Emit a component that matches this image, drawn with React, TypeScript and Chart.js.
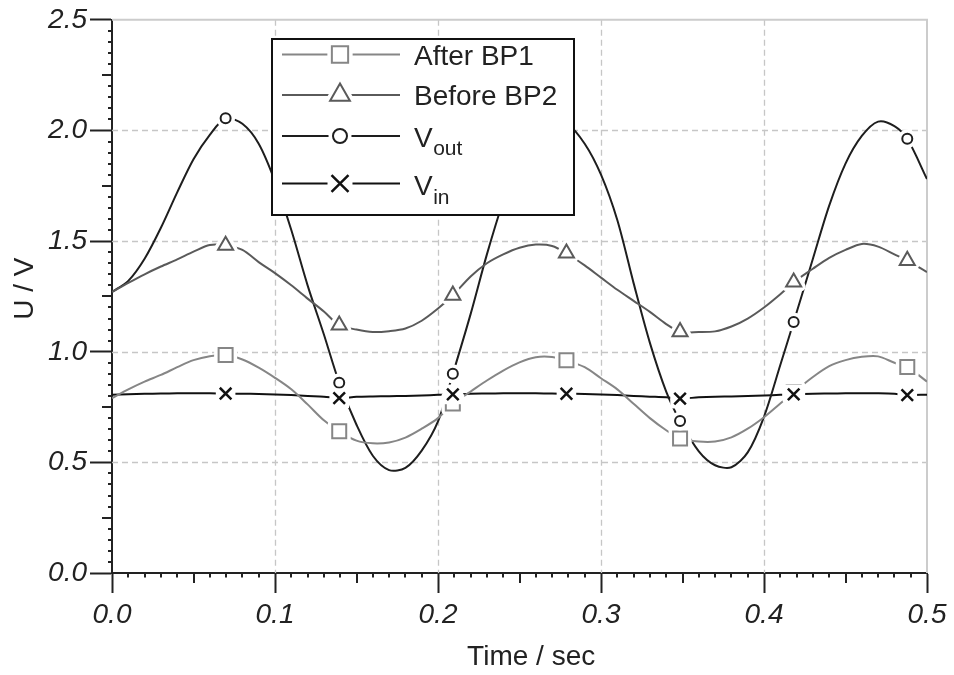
import React, { useEffect, useRef } from 'react';
import { Chart, registerables } from 'chart.js';

Chart.register(...registerables);

// ---------- data ----------
const TIME_S = [
  0, 0.01, 0.02, 0.03, 0.04, 0.05, 0.06, 0.0697, 0.08, 0.09, 0.1, 0.11, 0.12, 0.13, 0.1394,
  0.15, 0.16, 0.17, 0.18, 0.19, 0.2, 0.2091, 0.22, 0.23, 0.24, 0.25, 0.26, 0.27, 0.2788,
  0.29, 0.3, 0.31, 0.32, 0.33, 0.34, 0.3485, 0.36, 0.37, 0.38, 0.39, 0.4, 0.41, 0.4182,
  0.43, 0.44, 0.45, 0.46, 0.47, 0.48, 0.4879, 0.5,
];
const MARKER_INDEX = [7, 14, 21, 28, 35, 42, 49];

const AFTER_BP1 = [
  0.79, 0.83, 0.865, 0.895, 0.93, 0.962, 0.98, 0.985, 0.965, 0.928, 0.882, 0.83, 0.762, 0.69, 0.641,
  0.598, 0.586, 0.59, 0.612, 0.652, 0.7, 0.766, 0.82, 0.87, 0.915, 0.952, 0.975, 0.976, 0.961,
  0.93, 0.88, 0.83, 0.765, 0.7, 0.645, 0.608, 0.594, 0.594, 0.613, 0.652, 0.704, 0.766, 0.817,
  0.886, 0.935, 0.962, 0.977, 0.979, 0.95, 0.931, 0.865,
];
const BEFORE_BP2 = [
  1.27, 1.311, 1.35, 1.385, 1.417, 1.452, 1.482, 1.48, 1.46, 1.405, 1.355, 1.3, 1.24, 1.182, 1.12,
  1.1, 1.089, 1.093, 1.105, 1.14, 1.195, 1.255, 1.34, 1.4, 1.44, 1.47, 1.484, 1.478, 1.445,
  1.39, 1.335, 1.28, 1.23, 1.18, 1.125, 1.09, 1.089, 1.092, 1.114, 1.15, 1.2, 1.26, 1.314,
  1.375, 1.424, 1.46, 1.487, 1.475, 1.44, 1.412, 1.36,
];
const V_OUT = [
  1.27, 1.32, 1.42, 1.56, 1.72, 1.87, 1.98, 2.055, 2.03, 1.94, 1.77, 1.55, 1.3, 1.078, 0.86,
  0.67, 0.53, 0.465, 0.475, 0.553, 0.685, 0.9, 1.17, 1.44, 1.68, 1.88, 2.0, 2.05, 2.035,
  1.94, 1.8, 1.595, 1.31, 1.04, 0.82, 0.687, 0.55, 0.487, 0.478, 0.545, 0.706, 0.94, 1.134,
  1.42, 1.66, 1.85, 1.975, 2.04, 2.02, 1.962, 1.78,
];
const V_IN = [
  0.805, 0.808, 0.81, 0.811, 0.812, 0.812, 0.812, 0.811, 0.81, 0.809, 0.807, 0.804, 0.8, 0.797, 0.79,
  0.796, 0.798, 0.799, 0.8, 0.802, 0.805, 0.807, 0.81, 0.811, 0.812, 0.812, 0.812, 0.811, 0.81,
  0.809, 0.807, 0.804, 0.8, 0.797, 0.794, 0.788, 0.794, 0.797, 0.798, 0.8, 0.802, 0.805, 0.807,
  0.81, 0.811, 0.812, 0.812, 0.812, 0.81, 0.804, 0.806,
];

const X_TICKS = [0, 0.1, 0.2, 0.3, 0.4, 0.5];
const Y_TICKS = [0, 0.5, 1.0, 1.5, 2.0, 2.5];
const LEGEND_MAIN = ['After BP1', 'Before BP2', 'V', 'V'];
const LEGEND_SUB = ['', '', 'out', 'in'];
const X_TITLE = 'Time / sec';
const Y_TITLE = 'U / V';

// ---------- styles ----------
const FONT = "'Liberation Sans', Arial, Helvetica, sans-serif";
const INK = '#222222';
const SERIES_STYLE = [
  { color: '#868686', style: 'rect', r: 9.9, lr: 11.5 },
  { color: '#5a5a5a', style: 'triangle', r: 8.7, lr: 11.4 },
  { color: '#1e1e1e', style: 'circle', r: 5, lr: 7 },
  { color: '#111111', style: 'crossRot', r: 8.2, lr: 12 },
];
const SERIES_VALUES = [AFTER_BP1, BEFORE_BP2, V_OUT, V_IN];

function markerPath(ctx: CanvasRenderingContext2D, style: string, x: number, y: number, r: number) {
  ctx.beginPath();
  if (style === 'rect') {
    const s = r * Math.SQRT1_2;
    ctx.rect(x - s, y - s, 2 * s, 2 * s);
  } else if (style === 'triangle') {
    ctx.moveTo(x, y - r);
    ctx.lineTo(x + r * Math.sin((2 * Math.PI) / 3), y - r * Math.cos((2 * Math.PI) / 3));
    ctx.lineTo(x + r * Math.sin((4 * Math.PI) / 3), y - r * Math.cos((4 * Math.PI) / 3));
    ctx.closePath();
  } else if (style === 'circle') {
    ctx.arc(x, y, r, 0, Math.PI * 2);
  } else {
    const o = r * Math.SQRT1_2;
    ctx.moveTo(x - o, y - o);
    ctx.lineTo(x + o, y + o);
    ctx.moveTo(x + o, y - o);
    ctx.lineTo(x - o, y + o);
  }
}

function drawHalo(ctx: CanvasRenderingContext2D, style: string, x: number, y: number, r: number) {
  ctx.save();
  ctx.fillStyle = '#ffffff';
  ctx.strokeStyle = '#ffffff';
  if (style === 'crossRot') {
    const h = r * Math.SQRT1_2 + 4;
    ctx.fillRect(x - h, y - h, 2 * h, 2 * h);
  } else {
    markerPath(ctx, style, x, y, r);
    ctx.fill();
    ctx.lineWidth = 9;
    ctx.lineJoin = 'round';
    ctx.stroke();
  }
  ctx.restore();
}

function drawMarker(ctx: CanvasRenderingContext2D, style: string, x: number, y: number, r: number, color: string) {
  ctx.save();
  markerPath(ctx, style, x, y, r);
  ctx.lineWidth = style === 'crossRot' ? 2.5 : 2;
  ctx.strokeStyle = color;
  if (style !== 'crossRot') {
    ctx.fillStyle = '#ffffff';
    ctx.fill();
  }
  ctx.stroke();
  ctx.restore();
}

const gridPlugin = {
  id: 'dashedGrid',
  beforeDatasetsDraw(chart: any) {
    const { ctx, chartArea } = chart;
    const xs = chart.scales.x;
    const ys = chart.scales.y;
    ctx.save();
    ctx.strokeStyle = '#c6c6c6';
    ctx.lineWidth = 1.3;
    ctx.setLineDash([6, 4]);
    X_TICKS.slice(1, -1).forEach((t) => {
      const px = Math.round(xs.getPixelForValue(t)) + 0.5;
      ctx.beginPath();
      ctx.moveTo(px, chartArea.top);
      ctx.lineTo(px, chartArea.bottom);
      ctx.stroke();
    });
    Y_TICKS.slice(1, -1).forEach((v) => {
      const py = Math.round(ys.getPixelForValue(v)) + 0.5;
      ctx.beginPath();
      ctx.moveTo(chartArea.left, py);
      ctx.lineTo(chartArea.right, py);
      ctx.stroke();
    });
    ctx.setLineDash([]);
    ctx.strokeStyle = '#cccccc';
    ctx.lineWidth = 2;
    const top = ys.getPixelForValue(Y_TICKS[Y_TICKS.length - 1]);
    const right = xs.getPixelForValue(X_TICKS[X_TICKS.length - 1]);
    ctx.beginPath();
    ctx.moveTo(chartArea.left, top);
    ctx.lineTo(right, top);
    ctx.lineTo(right, chartArea.bottom);
    ctx.stroke();
    ctx.restore();
  },
};

const markerPlugin = {
  id: 'haloMarkers',
  afterDatasetsDraw(chart: any) {
    const { ctx } = chart;
    chart.data.datasets.forEach((_ds: any, di: number) => {
      const st = SERIES_STYLE[di];
      const meta = chart.getDatasetMeta(di);
      MARKER_INDEX.forEach((i) => {
        const el = meta.data[i];
        if (!el) return;
        drawHalo(ctx, st.style, el.x, el.y, st.r);
        drawMarker(ctx, st.style, el.x, el.y, st.r, st.color);
      });
    });
  },
};

const minorTickPlugin = {
  id: 'minorTicks',
  afterDraw(chart: any) {
    const { ctx, chartArea } = chart;
    const xs = chart.scales.x;
    const ys = chart.scales.y;
    ctx.save();
    ctx.strokeStyle = INK;
    ctx.lineWidth = 2;
    for (let k = 1; k < 50; k++) {
      if (k % 10 === 0) continue;
      const v = Math.round(k * 5) / 100;
      const py = Math.round(ys.getPixelForValue(v));
      const len = k % 5 === 0 ? 10 : 4;
      ctx.beginPath();
      ctx.moveTo(chartArea.left - len, py);
      ctx.lineTo(chartArea.left, py);
      ctx.stroke();
    }
    for (let k = 1; k < 50; k++) {
      if (k % 10 === 0) continue;
      const t = k / 100;
      const px = Math.round(xs.getPixelForValue(t));
      const len = k % 5 === 0 ? 10 : 4.5;
      ctx.beginPath();
      ctx.moveTo(px, chartArea.bottom);
      ctx.lineTo(px, chartArea.bottom + len);
      ctx.stroke();
    }
    ctx.restore();
  },
};

const legendPlugin = {
  id: 'boxLegend',
  afterDraw(chart: any) {
    const { ctx } = chart;
    const bx = 272;
    const by = 39;
    const bw = 302;
    const bh = 176;
    const lineY = [54.5, 95, 136, 183.5];
    const baseY = [65, 105, 146.5, 195];
    ctx.save();
    ctx.fillStyle = '#ffffff';
    ctx.fillRect(bx, by, bw, bh);
    ctx.strokeStyle = '#111111';
    ctx.lineWidth = 2;
    ctx.strokeRect(bx, by, bw, bh);
    SERIES_STYLE.forEach((st, i) => {
      const y = lineY[i];
      ctx.strokeStyle = st.color;
      ctx.lineWidth = 2;
      ctx.beginPath();
      ctx.moveTo(282, y);
      ctx.lineTo(400, y);
      ctx.stroke();
      drawHalo(ctx, st.style, 340, y, st.lr);
      drawMarker(ctx, st.style, 340, y, st.lr, st.color);
      ctx.fillStyle = INK;
      ctx.textAlign = 'left';
      ctx.textBaseline = 'alphabetic';
      ctx.font = `28px ${FONT}`;
      ctx.fillText(LEGEND_MAIN[i], 414, baseY[i]);
      if (LEGEND_SUB[i]) {
        const w = ctx.measureText(LEGEND_MAIN[i]).width;
        ctx.font = `21px ${FONT}`;
        ctx.fillText(LEGEND_SUB[i], 414 + w + 0.5, baseY[i] + 8.5);
      }
    });
    ctx.restore();
  },
};

export default function App() {
  const ref = useRef<HTMLCanvasElement | null>(null);

  useEffect(() => {
    document.body.style.margin = '0';
    const canvas = ref.current;
    if (!canvas) return;

    const datasets = SERIES_VALUES.map((vals, si) => ({
      label: LEGEND_MAIN[si] + LEGEND_SUB[si],
      data: TIME_S.map((t, i) => ({ x: t, y: vals[i] })),
      borderColor: SERIES_STYLE[si].color,
      backgroundColor: '#ffffff',
      borderWidth: 2,
      pointStyle: SERIES_STYLE[si].style,
      pointRadius: 0,
      pointHoverRadius: 0,
      tension: 0.3,
      fill: false,
    }));

    const tickFont = { family: FONT, size: 28, style: 'italic' as const };
    const titleFont = { family: FONT, size: 28 };

    const chart = new Chart(canvas, {
      type: 'line',
      data: { datasets },
      options: {
        responsive: false,
        maintainAspectRatio: false,
        devicePixelRatio: 1,
        animation: false,
        events: [],
        layout: { padding: { top: 18, right: 27, left: 0, bottom: 0 } },
        plugins: {
          legend: { display: false },
          tooltip: { enabled: false },
        },
        scales: {
          x: {
            type: 'linear',
            min: 0,
            max: 0.5,
            afterBuildTicks: (s: any) => {
              s.ticks = X_TICKS.map((v) => ({ value: v }));
            },
            afterFit: (s: any) => {
              s.height = 102;
            },
            ticks: {
              callback: (v: any) => Number(v).toFixed(1),
              font: tickFont,
              color: INK,
              padding: 5,
              maxRotation: 0,
              autoSkip: false,
            },
            grid: {
              drawOnChartArea: false,
              drawTicks: true,
              tickLength: 20,
              tickWidth: 2,
              tickColor: INK,
            },
            border: { display: true, color: INK, width: 2 },
            title: {
              display: true,
              text: '\u00a0\u00a0\u00a0' + X_TITLE,
              font: titleFont,
              color: INK,
              padding: { top: 0, bottom: 1 },
            },
          },
          y: {
            type: 'linear',
            min: 0,
            max: 2.5,
            afterBuildTicks: (s: any) => {
              s.ticks = Y_TICKS.map((v) => ({ value: v }));
            },
            afterFit: (s: any) => {
              s.width = 112;
            },
            ticks: {
              callback: (v: any) => Number(v).toFixed(1),
              font: tickFont,
              color: INK,
              padding: 3,
              autoSkip: false,
            },
            grid: {
              drawOnChartArea: false,
              drawTicks: true,
              tickLength: 22,
              tickWidth: 2,
              tickColor: INK,
            },
            border: { display: true, color: INK, width: 2 },
            title: {
              display: true,
              text: '\u00a0\u00a0' + Y_TITLE,
              font: titleFont,
              color: INK,
              padding: { top: 8, bottom: 0 },
            },
          },
        },
      } as any,
      plugins: [gridPlugin, markerPlugin, minorTickPlugin, legendPlugin],
    });

    return () => {
      chart.destroy();
    };
  }, []);

  return <canvas ref={ref} width={954} height={675} style={{ display: 'block' }} />;
}
